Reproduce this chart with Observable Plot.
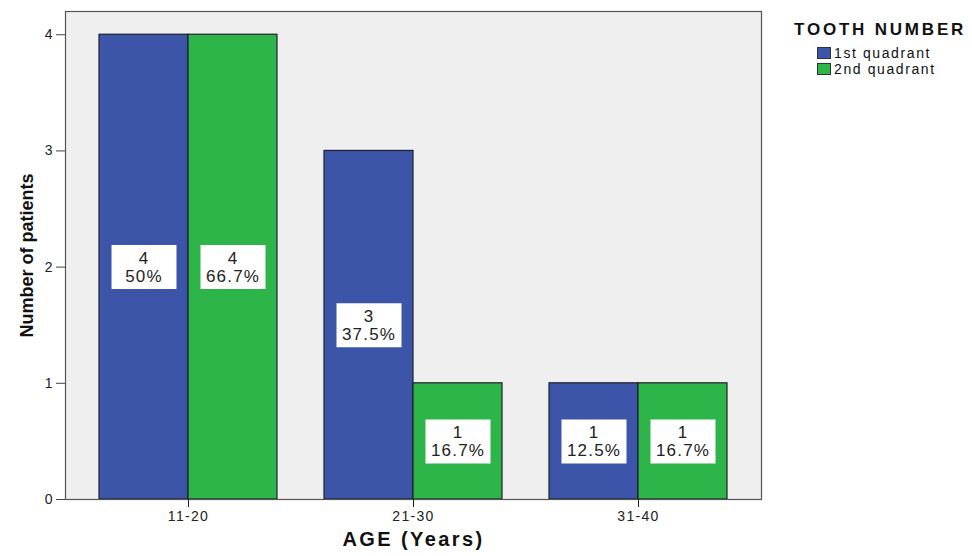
<!DOCTYPE html>
<html>
<head>
<meta charset="utf-8">
<script src="https://cdn.jsdelivr.net/npm/d3@7"></script>
<script src="https://cdn.jsdelivr.net/npm/@observablehq/plot@0.6"></script>
<style>
  html, body { margin: 0; padding: 0; background: #fff; }
  #wrap { position: relative; width: 972px; height: 556px; }
  #wrap svg { font-family: "Liberation Sans", Arial, sans-serif; }
  g[aria-label="y-axis label"] text { font-family: "Liberation Sans Narrow", "Liberation Sans", Arial, sans-serif; font-stretch: condensed; font-weight: bold; font-size: 18px; fill: #111; }
  g[aria-label="x-axis label"] text { font-weight: bold; font-size: 20px; letter-spacing: 2.4px; fill: #111; }
  g[aria-label="x-axis tick label"] text { font-size: 14px; letter-spacing: 1.3px; fill: #222; }
  g[aria-label="y-axis tick label"] text { font-size: 14px; fill: #222; }
  g[aria-label="text"] text { letter-spacing: 1.2px; }
  #legend { position: absolute; left: 794px; top: 20px; font-family: "Liberation Sans", Arial, sans-serif; color: #111; }
  #legend .title { font-weight: bold; font-size: 17px; margin-bottom: 5px; letter-spacing: 2.8px; }
  #legend .item { display: flex; align-items: center; font-size: 14px; letter-spacing: 1.6px; height: 16px; margin-left: 23px; }
  #legend .sw { width: 14px; height: 12px; border: 1px solid #333; margin-right: 3px; box-sizing: border-box; }
</style>
</head>
<body>
<div id="wrap"><div id="legend"></div></div>
<script>
const ages = ["11-20", "21-30", "31-40"];
const seriesNames = ["1st quadrant", "2nd quadrant"];
const q1Counts = [4, 3, 1];
const q2Counts = [4, 1, 1];
const q1Pct = ["50%", "37.5%", "12.5%"];
const q2Pct = ["66.7%", "16.7%", "16.7%"];
const yTicks = [0, 1, 2, 3, 4];
const colors = ["#3d55a8", "#2eb54a"];

const rows = [];
ages.forEach((a, i) => {
  rows.push({age: a, series: seriesNames[0], count: q1Counts[i], pct: q1Pct[i]});
  rows.push({age: a, series: seriesNames[1], count: q2Counts[i], pct: q2Pct[i]});
});
const s1 = rows.filter(d => d.series === seriesNames[0]);
const s2 = rows.filter(d => d.series === seriesNames[1]);

const half = 89;
const boxSymbol = { draw(ctx) { ctx.rect(-32.5, -22, 65, 44); } };
const label = d => `${d.count}\n${d.pct}`;
const textStyle = { fontSize: 17, lineHeight: 1.05, fill: "#222" };

const chart = Plot.plot({
  width: 972,
  height: 556,
  marginLeft: 65,
  marginRight: 211,
  marginTop: 11,
  marginBottom: 57,
  style: { background: "transparent", fontSize: "13px", color: "#333" },
  x: { domain: ages, paddingInner: 0.209, paddingOuter: 0.151 },
  y: { domain: [0, 4.2] },
  color: { domain: seriesNames, range: colors },
  marks: [
    Plot.frame({ fill: "#efefef", stroke: "none" }),
    Plot.barY(s1, { x: "age", y: "count", fill: "series", stroke: "#1e1e2a", strokeWidth: 1.2, insetRight: half }),
    Plot.barY(s2, { x: "age", y: "count", fill: "series", stroke: "#1e1e2a", strokeWidth: 1.2, insetLeft: half }),
    Plot.dot(s1, { x: "age", y: d => d.count / 2, dx: -half / 2, symbol: boxSymbol, fill: "white", stroke: "none" }),
    Plot.dot(s2, { x: "age", y: d => d.count / 2, dx: half / 2, symbol: boxSymbol, fill: "white", stroke: "none" }),
    Plot.text(s1, { x: "age", y: d => d.count / 2, dx: -half / 2, text: label, ...textStyle }),
    Plot.text(s2, { x: "age", y: d => d.count / 2, dx: half / 2, text: label, ...textStyle }),
    Plot.frame({ stroke: "#555", strokeWidth: 1.2 }),
    Plot.axisY({ ticks: yTicks, tickFormat: d3.format("d"), tickSize: 9, tickPadding: 4, label: "Number of patients", labelAnchor: "center", labelArrow: "none", labelOffset: 45, stroke: "#444" }),
    Plot.axisX({ tickSize: 8, tickPadding: 4, label: "AGE (Years)", labelAnchor: "center", labelArrow: "none", labelOffset: 46, stroke: "#222" })
  ]
});
document.getElementById("wrap").appendChild(chart);

const legend = document.getElementById("legend");
const t = document.createElement("div");
t.className = "title";
t.textContent = "TOOTH NUMBER";
legend.appendChild(t);
seriesNames.forEach((n, i) => {
  const it = document.createElement("div");
  it.className = "item";
  const sw = document.createElement("span");
  sw.className = "sw";
  sw.style.background = colors[i];
  it.appendChild(sw);
  it.appendChild(document.createTextNode(n));
  legend.appendChild(it);
});
</script>
</body>
</html>
